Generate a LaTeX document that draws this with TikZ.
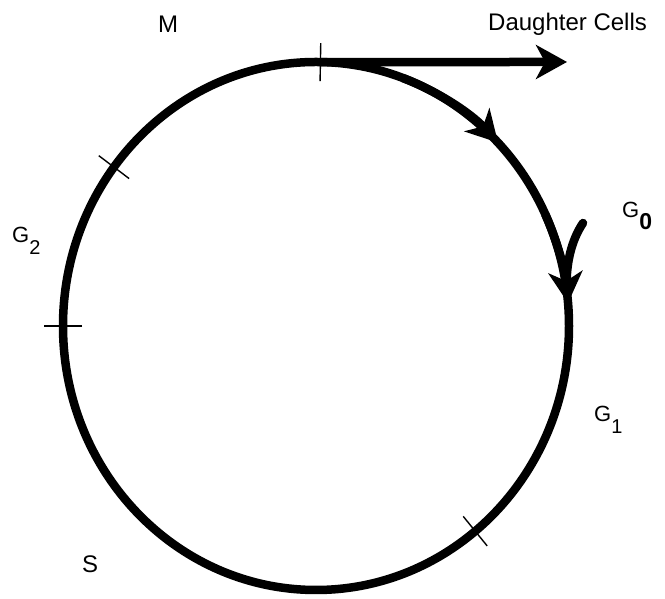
\documentclass[tikz,border=0pt]{standalone}
\usepackage{fontspec}
\setmainfont{Liberation Sans}
\usetikzlibrary{arrows.meta,calc}
\newcommand{\lowsub}[1]{\raisebox{-12pt}{\fontsize{20}{20}\selectfont #1}}
\tikzset{
  cyc/.style={line width=8.5pt},
  tickmark/.style={line width=1.4pt},
  bigtip/.style={-{Stealth[length=31pt,width=34pt,inset=9pt]}},
  lbl/.style={inner sep=0pt,anchor=base west,font=\fontsize{22}{24}\selectfont},
  biglbl/.style={lbl,font=\fontsize{24}{28}\selectfont}
}
\begin{document}
\begin{tikzpicture}[x=1pt,y=1pt]
\useasboundingbox (0,0) rectangle (665,599);
\coordinate (c) at (316,273);
\draw[cyc] (c) ellipse [x radius=253pt, y radius=264pt];
\foreach \a in {89,143,180,-51}
  \draw[tickmark] ($(c)+(\a:234pt and 245pt)$) -- ($(c)+(\a:272pt and 283pt)$);
\draw[cyc,bigtip] ($(c)+(70:253pt and 264pt)$) arc[start angle=70,end angle=44,x radius=253pt,y radius=264pt];
\draw[cyc,bigtip] ($(c)+(25:253pt and 264pt)$) arc[start angle=25,end angle=5,x radius=253pt,y radius=264pt];
\coordinate (mtop) at ($(c)+(89:253pt and 264pt)$);
\coordinate (dc) at (567,537);
\draw[cyc,bigtip] (mtop) -- (dc);
\coordinate (g0) at (583,376);
\coordinate (g0in) at ($(c)+(8:253pt and 264pt)$);
\draw[cyc,line cap=round] (g0) .. controls (571,358) and (566,335) .. (g0in);
\node[biglbl] (m) at (158,566) {M};
\node[biglbl] (daughter) at (488,568) {Daughter Cells};
\node[lbl] (gzero) at (622,381) {G\lowsub{\fontsize{23}{23}\selectfont\bfseries 0}};
\node[lbl] (gone) at (594,177) {G\lowsub{1}};
\node[lbl] (gtwo) at (12,356) {G\lowsub{2}};
\node[biglbl] (s) at (82,26) {S};
\end{tikzpicture}
\end{document}
